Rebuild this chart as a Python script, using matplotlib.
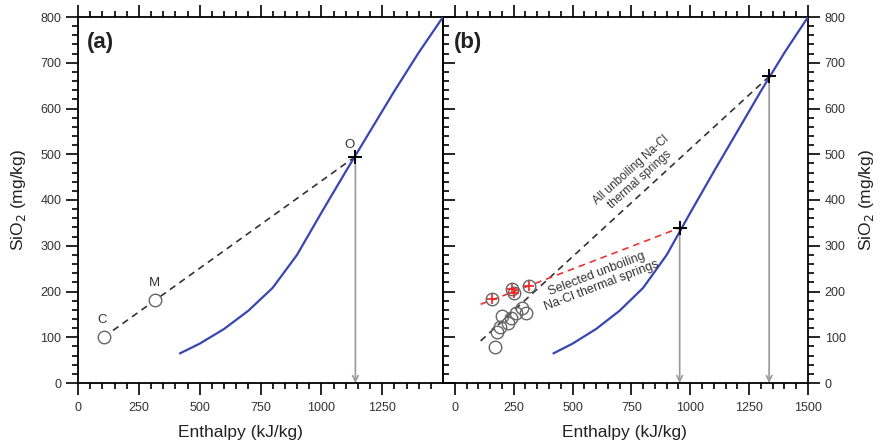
import matplotlib
matplotlib.use("Agg")
import matplotlib.pyplot as plt
from matplotlib.ticker import MultipleLocator, FixedLocator
import numpy as np

plt.rcParams['font.family'] = ['Liberation Sans', 'DejaVu Sans']

# ---- data ----
curve_h = [420, 500, 600, 700, 800, 900, 1000, 1100, 1200, 1300, 1400, 1500]
curve_s = [65, 86, 118, 158, 208, 280, 372, 462, 550, 638, 722, 800]

# panel (a)
pts_a_h = [105, 318]
pts_a_s = [100, 181]
pts_a_lbl = ["C", "M"]
O_h, O_s = 1140, 495

# panel (b)
gray_h = [172, 178, 190, 200, 228, 240, 262, 285, 302]
gray_s = [78, 112, 122, 146, 132, 141, 152, 164, 153]
red_h = [160, 245, 252, 316]
red_s = [183, 205, 197, 213]
all_line_h = [110, 1335]
all_line_s = [92, 670]
sel_line_h = [110, 955]
sel_line_s = [172, 339]

blue = "#3846b4"
tcol = "#333333"
W, H = 880, 443

fig = plt.figure(figsize=(8.8, 4.43), dpi=100)
ax2 = fig.add_axes([443/W, 60/H, 365/W, 366/H])
ax1 = fig.add_axes([78/W, 60/H, 365/W, 366/H])
ax1.set_zorder(3)
ax1.patch.set_visible(False)

def style(ax, xmin, majors):
    ax.set_xlim(xmin, 1500)
    ax.set_ylim(0, 800)
    ax.xaxis.set_major_locator(FixedLocator(majors))
    minors = [v for v in range(50, 1500, 50) if v not in majors]
    ax.xaxis.set_minor_locator(FixedLocator(minors))
    ax.yaxis.set_major_locator(MultipleLocator(100))
    ax.yaxis.set_minor_locator(MultipleLocator(20))
    ax.tick_params(which='both', direction='out', width=1.2, top=True, bottom=True)
    ax.tick_params(which='major', length=8.5)
    ax.tick_params(which='minor', length=4.5)
    ax.tick_params(axis='x', which='major', labelsize=9, labelcolor=tcol, pad=5)
    ax.tick_params(axis='y', which='major', labelsize=9, labelcolor=tcol, pad=3.5)
    for s in ax.spines.values():
        s.set_linewidth(1.3)

style(ax1, 0, [0, 250, 500, 750, 1000, 1250])
style(ax2, -50, [0, 250, 500, 750, 1000, 1250, 1500])
ax1.tick_params(axis='y', which='both', left=True, right=True, labelleft=True, labelright=False)
ax2.tick_params(axis='y', which='both', left=False, right=True, labelleft=False, labelright=True)

# axis labels
fig.text(240/W, 1 - 432/H, "Enthalpy (kJ/kg)", ha='center', va='center', fontsize=12.5, color='#222222')
fig.text(624/W, 1 - 432/H, "Enthalpy (kJ/kg)", ha='center', va='center', fontsize=12.5, color='#222222')
fig.text(19/W, 1 - 200/H, "SiO$_2$ (mg/kg)", ha='center', va='center', rotation=90, fontsize=12.5, color='#222222')
fig.text(866/W, 1 - 200/H, "SiO$_2$ (mg/kg)", ha='center', va='center', rotation=90, fontsize=12.5, color='#222222')

# ---- panel (a) ----
ax1.plot(curve_h, curve_s, color=blue, lw=1.6, zorder=3)
ax1.plot([pts_a_h[0], O_h], [pts_a_s[0], O_s], ls=(0, (4, 3)), color="#333333", lw=1.2, zorder=2)
ax1.plot(pts_a_h, pts_a_s, 'o', ms=9, mfc='white', mec='#666666', mew=1.0, zorder=4)
for h, s, l in zip(pts_a_h, pts_a_s, pts_a_lbl):
    ax1.text(h - 5, s + 38, l, ha='center', va='center', fontsize=9.5, color=tcol)
ax1.text(O_h - 25, O_s + 25, "O", ha='center', va='center', fontsize=9.5, color=tcol)
ax1.annotate("", xy=(O_h, 0), xytext=(O_h, O_s),
             arrowprops=dict(arrowstyle='->', color='#999999', lw=1.2, shrinkA=0, shrinkB=0),
             zorder=1)
ax1.plot([O_h], [O_s], '+', color='black', ms=10, mew=1.4, zorder=5)
ax1.text(0.025, 0.93, "(a)", transform=ax1.transAxes, fontsize=16, fontweight='bold',
         ha='left', va='center', color='#222222')

# ---- panel (b) ----
ax2.plot(curve_h, curve_s, color=blue, lw=1.6, zorder=3)
ax2.plot(all_line_h, all_line_s, ls=(0, (4, 3)), color="#333333", lw=1.2, zorder=2)
ax2.plot(sel_line_h, sel_line_s, ls=(0, (4, 3)), color="#ee3333", lw=1.2, zorder=2)
ax2.plot(gray_h, gray_s, 'o', ms=9, mfc='none', mec='#666666', mew=1.0, zorder=4)
ax2.plot(red_h, red_s, 'o', ms=9, mfc='none', mec='#666666', mew=1.0, zorder=4)
ax2.plot(red_h, red_s, '+', ms=7, color='#ee2222', mew=1.2, zorder=5)
for h, s in [(all_line_h[1], all_line_s[1]), (sel_line_h[1], sel_line_s[1])]:
    ax2.annotate("", xy=(h, 0), xytext=(h, s),
                 arrowprops=dict(arrowstyle='->', color='#999999', lw=1.2, shrinkA=0, shrinkB=0),
                 zorder=1)
    ax2.plot([h], [s], '+', color='black', ms=10, mew=1.4, zorder=5)

ax2.text(766, 454, "All unboiling Na-Cl\nthermal springs", rotation=42, ha='center',
         va='center', fontsize=8.5, color=tcol, rotation_mode='anchor', linespacing=1.1)
ax2.text(612, 226, "Selected unboiling\nNa-Cl thermal springs", rotation=21, ha='center',
         va='center', fontsize=9, color=tcol, rotation_mode='anchor', linespacing=1.1)
ax2.text(0.03, 0.93, "(b)", transform=ax2.transAxes, fontsize=16, fontweight='bold',
         ha='left', va='center', color='#222222')

fig.savefig("out.png", dpi=100)
